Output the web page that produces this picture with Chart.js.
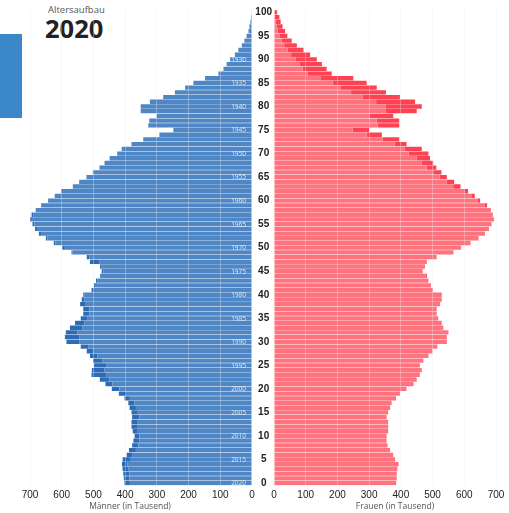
<!DOCTYPE html>
<html lang="de">
<head>
<meta charset="utf-8">
<title>Altersaufbau 2020</title>
<script src="https://cdn.jsdelivr.net/npm/chart.js@4.4.1/dist/chart.umd.min.js"></script>
<style>
  html, body { margin: 0; padding: 0; background: #fff; overflow: hidden; }
  body { width: 509px; height: 513px; position: relative; font-family: "Open Sans", sans-serif; }
  canvas { position: absolute; top: 0; }
  #men { left: 0; }
  #women { left: 252px; }
  .side-tab { position: absolute; left: 0; top: 34px; width: 22px; height: 84px; background: #3b87c8; }
  .kicker { position: absolute; left: 48px; top: 3px; font-size: 9.5px; color: #555; }
  .year { position: absolute; left: 45px; top: 11px; font-size: 25.5px; line-height: 34px; font-weight: 700; color: #222; }
  .axis-title { position: absolute; top: 500px; font-size: 8.5px; color: #555; transform: translateX(-50%); white-space: nowrap; }
</style>
</head>
<body>
<div class="side-tab"></div>
<div class="kicker">Altersaufbau</div>
<div class="year">2020</div>
<canvas id="men" width="262" height="513"></canvas>
<canvas id="women" width="270" height="513"></canvas>
<div class="axis-title" style="left:130px">Männer (in Tausend)</div>
<div class="axis-title" style="left:395px">Frauen (in Tausend)</div>
<script>
// ages 0..100, one bar each
const ages = Array.from({ length: 101 }, (_, i) => String(i));

// population by age in thousands (ages 0..100)
const men = [
  402, 404, 406, 408, 410, 408, 395, 388, 378, 374,
  370, 376, 380, 380, 378, 380, 386, 390, 402, 420,
  442, 462, 480, 506, 505, 498, 501, 511, 521, 540,
  585, 590, 587, 574, 558, 540, 532, 532, 542, 537,
  532, 506, 498, 492, 479, 474, 479, 511, 521, 569,
  598, 625, 650, 672, 684, 692, 700, 695, 682, 665,
  643, 622, 602, 565, 545, 522, 502, 481, 465, 449,
  425, 411, 380, 343, 292, 248, 327, 324, 301, 351,
  351, 322, 280, 243, 211, 185, 148, 106, 90, 80,
  69, 54, 43, 32, 24, 17, 11, 8, 5, 3,
  2
];
const women = [
  385, 387, 387, 389, 393, 382, 376, 366, 358, 355,
  355, 360, 360, 360, 355, 360, 366, 371, 385, 397,
  418, 440, 450, 460, 466, 460, 471, 487, 500, 515,
  545, 545, 550, 534, 529, 518, 513, 513, 524, 529,
  529, 501, 495, 487, 482, 469, 476, 482, 513, 566,
  590, 620, 645, 665, 678, 686, 694, 690, 684, 672,
  650, 633, 612, 588, 568, 545, 528, 512, 502, 492,
  487, 466, 418, 395, 340, 300, 395, 395, 376, 450,
  466, 445, 397, 353, 324, 292, 250, 182, 166, 151,
  135, 114, 93, 72, 56, 42, 35, 27, 21, 17,
  10
];

const surveyYear = 2020;
const birthYears = [1930, 1935, 1940, 1945, 1950, 1955, 1960, 1965, 1970, 1975,
                    1980, 1985, 1990, 1995, 2000, 2005, 2010, 2015, 2020];
const xTicks = [0, 100, 200, 300, 400, 500, 600, 700];

const BLUE = '#4f86c5';
const BLUE_DARK = '#2d6cb4';
const RED = '#ff727e';
const RED_DARK = '#fc4253';
const GRID = 'rgba(232,232,232,0.35)';

// common part in the light colour, surplus of one sex in the darker colour
const menBase = men.map((m, i) => Math.min(m, women[i]));
const menSurplus = men.map((m, i) => Math.max(0, m - women[i]));
const womenBase = women.map((w, i) => Math.min(w, men[i]));
const womenSurplus = women.map((w, i) => Math.max(0, w - men[i]));

const birthYearLabels = {
  id: 'birthYearLabels',
  afterDatasetsDraw(chart) {
    const { ctx, chartArea, scales: { y } } = chart;
    ctx.save();
    ctx.font = '6.5px "Open Sans"';
    ctx.fillStyle = 'rgba(255,255,255,0.8)';
    ctx.textAlign = 'right';
    ctx.textBaseline = 'middle';
    birthYears.forEach(year => {
      const idx = ages.indexOf(String(surveyYear - year));
      ctx.fillText(String(year), chartArea.right - 6, y.getPixelForValue(idx) + 0.5);
    });
    ctx.restore();
  }
};

const xScale = (reverse) => ({
  stacked: true,
  reverse: reverse,
  min: 0,
  max: 700,
  afterBuildTicks: s => { s.ticks = xTicks.map(v => ({ value: v })); },
  ticks: { padding: 4, color: '#222', font: { size: 10 } },
  grid: {
    z: 1,
    drawTicks: false,
    color: c => (c.tick && c.tick.value === 0) ? 'rgba(0,0,0,0)' : GRID
  },
  border: { display: false },
  afterFit: s => { s.height = 27.6; }
});

const common = {
  indexAxis: 'y',
  responsive: false,
  animation: false,
  devicePixelRatio: 1,
  plugins: { legend: { display: false }, tooltip: { enabled: false } },
  datasets: { bar: { barPercentage: 0.92, categoryPercentage: 1, borderWidth: 0 } }
};

new Chart(document.getElementById('men'), {
  type: 'bar',
  data: {
    labels: ages,
    datasets: [
      { label: 'Männer', data: menBase, backgroundColor: BLUE },
      { label: 'Männerüberschuss', data: menSurplus, backgroundColor: BLUE_DARK }
    ]
  },
  options: {
    ...common,
    layout: { padding: { left: 30, right: 10, top: 10, bottom: 0 } },
    scales: {
      x: xScale(true),
      y: { stacked: true, reverse: true, display: false }
    }
  },
  plugins: [birthYearLabels]
});

new Chart(document.getElementById('women'), {
  type: 'bar',
  data: {
    labels: ages,
    datasets: [
      { label: 'Frauen', data: womenBase, backgroundColor: RED },
      { label: 'Frauenüberschuss', data: womenSurplus, backgroundColor: RED_DARK }
    ]
  },
  options: {
    ...common,
    layout: { padding: { left: 0, right: 26, top: 10, bottom: 0 } },
    scales: {
      x: xScale(false),
      y: {
        stacked: true,
        reverse: true,
        position: 'left',
        afterFit: s => { s.width = 22; },
        grid: { display: false, drawTicks: false },
        border: { display: false },
        ticks: {
          autoSkip: false,
          padding: 2,
          crossAlign: 'center',
          color: '#222',
          font: { size: 10, weight: 'bold' },
          callback: function (v) {
            const l = this.getLabelForValue(v);
            return Number(l) % 5 === 0 ? l : '';
          }
        }
      }
    }
  }
});
</script>
</body>
</html>
